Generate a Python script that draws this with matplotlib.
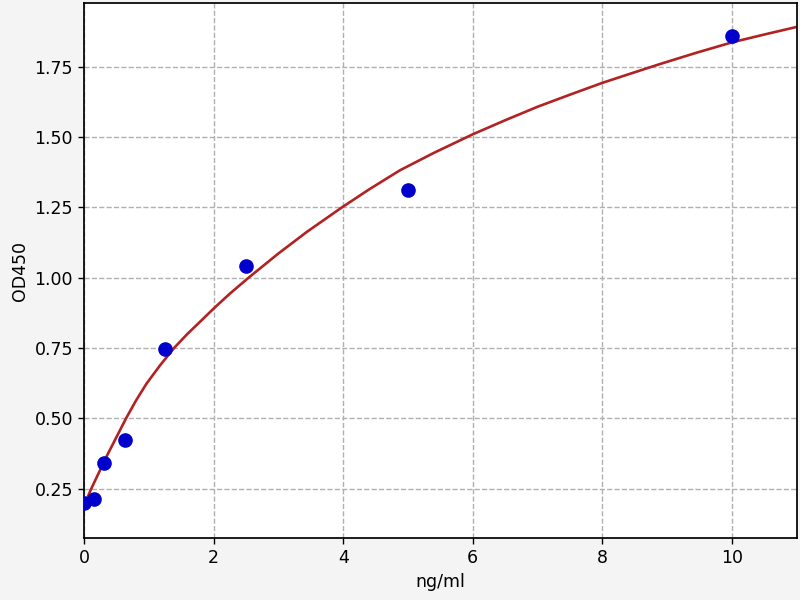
import matplotlib
matplotlib.use("Agg")
import matplotlib.pyplot as plt

# measured standards
conc = [0.0, 0.156, 0.3125, 0.625, 1.25, 2.5, 5.0, 10.0]
od = [0.197, 0.212, 0.341, 0.424, 0.747, 1.041, 1.312, 1.859]

# fitted curve, values
curve_x = [0.0, 0.05, 0.113, 0.35, 0.65, 0.8, 0.967, 1.18, 1.39, 1.6, 1.79,
           2.0, 2.25, 2.54, 3.0, 3.44, 3.98, 4.4, 4.876, 5.4, 6.0, 6.5, 7.0,
           7.5, 8.0, 8.45, 8.89, 9.45, 10.0, 10.5, 11.0]
curve_y = [0.185, 0.216, 0.25, 0.365, 0.50, 0.562, 0.624, 0.690, 0.75, 0.801,
           0.843, 0.89, 0.943, 1.0, 1.086, 1.163, 1.25, 1.314, 1.382, 1.444,
           1.510, 1.560, 1.608, 1.651, 1.693, 1.727, 1.760, 1.800, 1.837,
           1.865, 1.892]

plt.rcParams['font.family'] = ['DejaVu Sans']
plt.rcParams['font.size'] = 12.5

fig = plt.figure(figsize=(8, 6), dpi=100, facecolor='#f4f4f4')
ax = fig.add_axes([0.105, 0.1033, 0.891, 0.8917])
ax.set_facecolor('white')

ax.plot(curve_x, curve_y, color='#b22222', linewidth=1.9, zorder=2)
ax.plot(conc, od, 'o', color='#0000cc', markersize=9.5, zorder=3)

ax.set_xlim(0, 11)
ax.set_ylim(0.074, 1.977)
ax.set_xticks([0, 2, 4, 6, 8, 10])
ax.set_yticks([0.25, 0.50, 0.75, 1.00, 1.25, 1.50, 1.75])
ax.set_yticklabels(['0.25', '0.50', '0.75', '1.00', '1.25', '1.50', '1.75'])

ax.grid(True, linestyle='--', color='#b0b0b0', linewidth=1.0)
ax.set_axisbelow(True)
for s in ax.spines.values():
    s.set_linewidth(1.25)
ax.tick_params(length=4.4, width=1.0, labelsize=12.5)

ax.set_xlabel('ng/ml', fontsize=12.5)
ax.set_ylabel('OD450', fontsize=12.5)

fig.savefig('out.png', dpi=100, facecolor=fig.get_facecolor())
